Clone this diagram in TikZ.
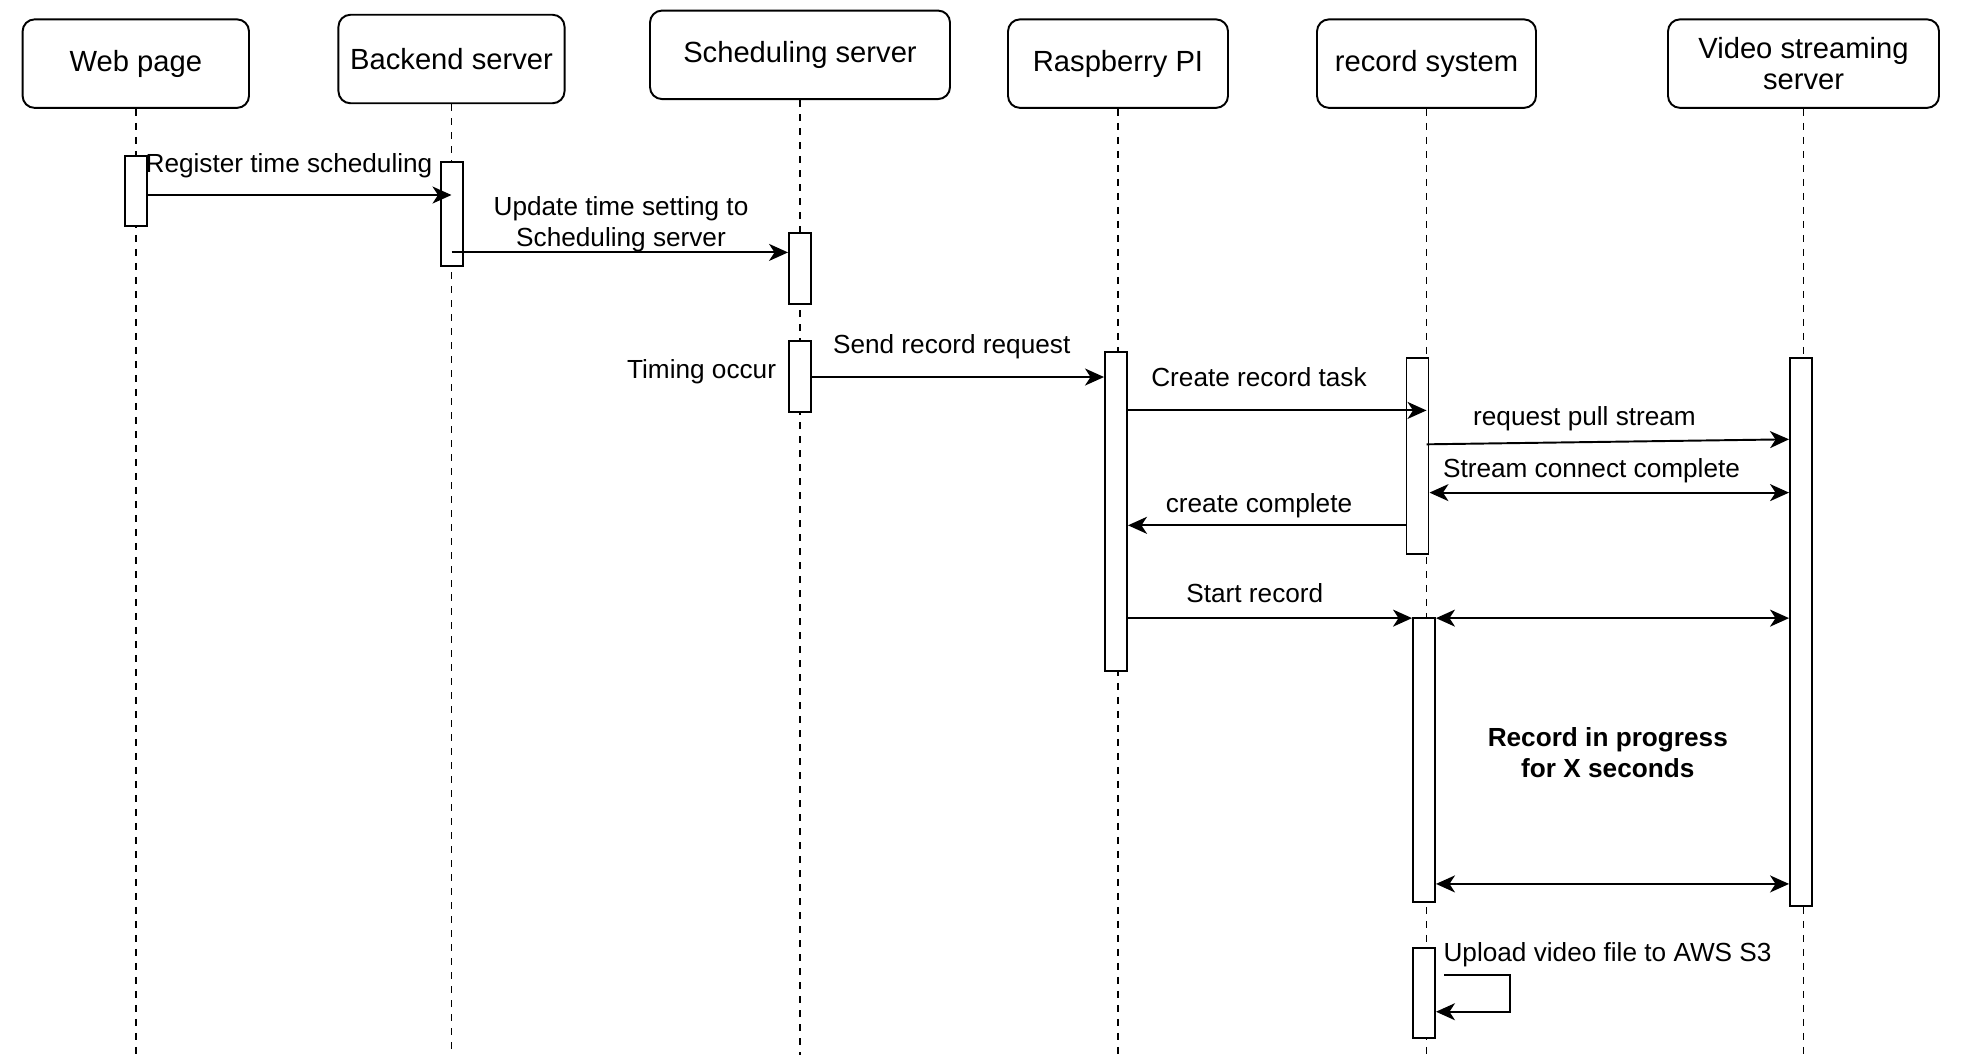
\documentclass[tikz,border=0pt]{standalone}
\usepackage{fontspec}
\setmainfont{Liberation Sans}
\usetikzlibrary{arrows.meta,positioning}

\begin{document}
\begin{tikzpicture}[line width=0.55pt,
  head/.style={draw, rounded corners=0.12cm, minimum height=0.885cm, align=center, font=\fontsize{8.3}{8.6}\selectfont},
  bar/.style={draw, fill=white, minimum width=0.22cm, inner sep=0pt},
  life/.style={dash pattern=on 0.7mm off 0.7mm},
  msg/.style={-{Stealth[length=1.9mm,width=1.7mm,inset=0.55mm]}},
  both/.style={{Stealth[length=1.9mm,width=1.7mm,inset=0.55mm]}-{Stealth[length=1.9mm,width=1.7mm,inset=0.55mm]}},
  lbl/.style={font=\fontsize{7.45}{8.8}\selectfont, inner sep=0pt}]
\useasboundingbox (0,0) rectangle (19.66,-10.58);

% Heads
\node[head, minimum width=2.264cm] (wp) at (1.358,-0.636) {Web page};
\node[head, minimum width=2.19cm] (bs) at (4.515,-0.59) {Backend server};
\node[head, minimum width=3.0cm] (ss) at (8.0,-0.548) {Scheduling server};
\node[head, minimum width=2.2cm] (rp) at (11.18,-0.636) {Raspberry PI};
\node[head, minimum width=2.19cm] (rs) at (14.265,-0.636) {record system};
\node[head, minimum width=2.71cm] (vs) at (18.035,-0.636) {Video streaming\\server};

% Lifelines
\foreach \n in {wp,bs,ss,rp,rs,vs}
  \draw[life] (\n.south) -- (\n.south |- 0,-10.55);

% Activations
\node[bar, minimum height=0.705cm] (wpA) at (1.36,-1.911) {};
\node[bar, minimum height=1.039cm] (bsA) at (4.52,-2.142) {};
\node[bar, minimum height=0.708cm] (ssA) at (8.0,-2.682) {};
\node[bar, minimum height=0.705cm] (ssB) at (8.0,-3.763) {};
\node[bar, minimum height=3.191cm] (rpA) at (11.16,-5.111) {};
\node[bar, minimum height=1.956cm] (rsA) at (14.175,-4.558) {};
\node[bar, minimum height=2.837cm] (rsB) at (14.24,-7.6) {};
\node[bar, minimum height=5.476cm] (vsA) at (18.01,-6.321) {};
\node[bar, minimum height=0.894cm] (rsC) at (14.24,-9.931) {};

% Messages
\draw[msg] (wpA.east |- 0,-1.95) -- (bs |- 0,-1.95);
\draw[msg] (bs |- 0,-2.524) -- (ssA.west |- 0,-2.524);
\draw[msg] (ssB.east |- 0,-3.77) -- (rpA.west |- 0,-3.77);
\draw[msg] (rpA.east |- 0,-4.104) -- (rs |- 0,-4.104);
\draw[msg] (rs |- 0,-4.443) -- (vsA.west |- 0,-4.393);
\draw[both] (rsA.east |- 0,-4.926) -- (vsA.west |- 0,-4.926);
\draw[msg] (rsA.west |- 0,-5.253) -- (rpA.east |- 0,-5.253);
\draw[msg] (rpA.east |- 0,-6.181) -- (rsB.west |- 0,-6.181);
\draw[both] (rsB.east |- 0,-6.181) -- (vsA.west |- 0,-6.181);
\draw[both] (rsB.east |- 0,-8.839) -- (vsA.west |- 0,-8.839);

% Upload loop
\coordinate (up) at (14.44,-9.75);
\draw[msg] (up) -- ++(0.66,0) |- (rsC.east |- 0,-10.117);

% Labels
\node[lbl, anchor=base] (regl) at (2.89,-1.721) {Register time scheduling};
\node[lbl, align=center] (updl) at (6.21,-2.244) {Update time setting to\\Scheduling server};
\node[lbl, anchor=base east] (timl) at (7.77,-3.785) {Timing occur};
\node[lbl, anchor=base] (sndl) at (9.517,-3.536) {Send record request};
\node[lbl, anchor=base] (crtl) at (12.59,-3.863) {Create record task};
\node[lbl, anchor=base] (pull) at (15.845,-4.258) {request pull stream};
\node[lbl, anchor=base] (conl) at (15.915,-4.774) {Stream connect complete};
\node[lbl, anchor=base] (cmpl) at (12.59,-5.128) {create complete};
\node[lbl, anchor=base] (strl) at (12.548,-6.025) {Start record};
\node[lbl, align=center, font=\fontsize{7.45}{8.8}\selectfont\bfseries] (prgl) at (16.078,-7.525) {Record in progress\\for X seconds};
\node[lbl, anchor=base west] (upl) at (14.426,-9.619) {Upload video file to AWS S3};
\end{tikzpicture}
\end{document}
